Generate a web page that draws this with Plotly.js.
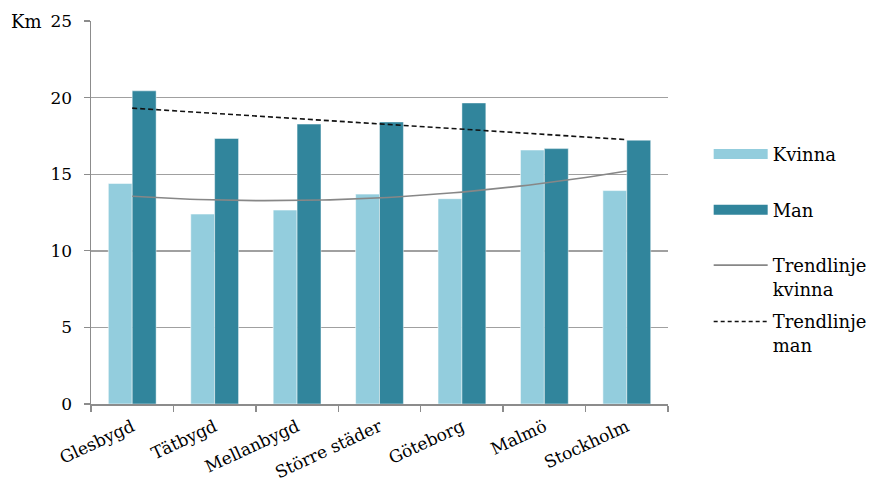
<!DOCTYPE html>
<html>
<head>
<meta charset="utf-8">
<script src="https://cdn.plot.ly/plotly-3.0.1.min.js"></script>
<style>
  html, body { margin: 0; padding: 0; background: #ffffff; }
  #chart { width: 870px; height: 485px; }
</style>
</head>
<body>
<div id="chart"></div>
<script>
// Average travel distance (km) by region type, women and men
const categories = ['Glesbygd', 'Tätbygd', 'Mellanbygd', 'Större städer', 'Göteborg', 'Malmö', 'Stockholm'];
const kvinna = [14.4, 12.4, 12.66, 13.7, 13.4, 16.58, 13.93];
const man = [20.44, 17.33, 18.27, 18.41, 19.65, 16.67, 17.22];
const yTicks = [0, 5, 10, 15, 20, 25];

const FONT = 'DejaVu Serif, Liberation Serif, serif';
const C_KVINNA = '#93cddd';
const C_MAN = '#31859c';

// Least-squares polynomial fit (degree 1 or 2) over category index 0..n-1
function polyFit(ys, degree) {
  const xs = ys.map((_, i) => i);
  const m = degree + 1;
  const A = [];
  for (let r = 0; r < m; r++) {
    A.push([]);
    for (let c = 0; c < m; c++) {
      A[r].push(xs.reduce((s, x) => s + Math.pow(x, r + c), 0));
    }
    A[r].push(xs.reduce((s, x, i) => s + Math.pow(x, r) * ys[i], 0));
  }
  for (let p = 0; p < m; p++) {
    for (let r = p + 1; r < m; r++) {
      const f = A[r][p] / A[p][p];
      for (let c = p; c <= m; c++) A[r][c] -= f * A[p][c];
    }
  }
  const coef = new Array(m).fill(0);
  for (let r = m - 1; r >= 0; r--) {
    let s = A[r][m];
    for (let c = r + 1; c < m; c++) s -= A[r][c] * coef[c];
    coef[r] = s / A[r][r];
  }
  return x => coef.reduce((s, k, i) => s + k * Math.pow(x, i), 0);
}

const fitK = polyFit(kvinna, 2);
const fitM = polyFit(man, 1);
const tx = [];
for (let i = 0; i <= 60; i++) tx.push(i * (categories.length - 1) / 60);

const traces = [
  { type: 'bar', name: 'Kvinna', x: categories, y: kvinna, showlegend: false,
    marker: { color: C_KVINNA, line: { color: 'rgba(255,255,255,0.55)', width: 1 } }, hoverinfo: 'x+y' },
  { type: 'bar', name: 'Man', x: categories, y: man, showlegend: false,
    marker: { color: C_MAN, line: { color: 'rgba(255,255,255,0.45)', width: 1 } }, hoverinfo: 'x+y' },
  { type: 'scatter', mode: 'lines', name: 'Trendlinje<br>kvinna', x: tx, y: tx.map(fitK),
    xaxis: 'x2', yaxis: 'y', line: { color: '#878787', width: 1.6 }, showlegend: false },
  { type: 'scatter', mode: 'lines', name: 'Trendlinje<br>man', x: tx, y: tx.map(fitM),
    xaxis: 'x2', yaxis: 'y', line: { color: '#111111', width: 1.6, dash: '5px,3px' }, showlegend: false },
  // legend swatches
  { type: 'scatter', mode: 'lines', name: 'Kvinna', x: [null], y: [null], xaxis: 'x2',
    line: { color: C_KVINNA, width: 12 }, legend: 'legend', hoverinfo: 'skip' },
  { type: 'scatter', mode: 'lines', name: 'Man', x: [null], y: [null], xaxis: 'x2',
    line: { color: C_MAN, width: 12 }, legend: 'legend2', hoverinfo: 'skip' },
  { type: 'scatter', mode: 'lines', name: 'Trendlinje<br>kvinna', x: [null], y: [null], xaxis: 'x2',
    line: { color: '#878787', width: 1.6 }, legend: 'legend3', hoverinfo: 'skip' },
  { type: 'scatter', mode: 'lines', name: 'Trendlinje<br>man', x: [null], y: [null], xaxis: 'x2',
    line: { color: '#111111', width: 1.6, dash: '4px,3px' }, legend: 'legend4', hoverinfo: 'skip' }
];

const legendBase = (y) => ({
  x: 1.0705, xanchor: 'left', y: y, yanchor: 'top', valign: 'top',
  itemwidth: 54, bgcolor: 'rgba(0,0,0,0)',
  font: { family: FONT, size: 18, color: '#000000' }
});

const layout = {
  width: 870, height: 485,
  margin: { l: 91, r: 202, t: 21, b: 81, autoexpand: false },
  paper_bgcolor: '#ffffff', plot_bgcolor: '#ffffff',
  font: { family: FONT, size: 16, color: '#000000' },
  barmode: 'group', bargap: 0.42, bargroupgap: 0,
  xaxis: {
    type: 'category', categoryorder: 'array', categoryarray: categories,
    tickson: 'boundaries', ticks: 'outside', ticklen: 6, tickcolor: '#8c8c8c', tickwidth: 1.3,
    showline: true, linecolor: '#8c8c8c', linewidth: 1.5, automargin: false,
    showgrid: false, tickangle: -25, ticklabelstandoff: 5,
    tickfont: { family: FONT, size: 17, color: '#000000' }
  },
  xaxis2: { overlaying: 'x', range: [-0.5, categories.length - 0.5], visible: false, fixedrange: true },
  yaxis: {
    range: [0, 25], tickvals: yTicks, ticktext: yTicks.map(String),
    ticks: 'outside', ticklen: 6, tickcolor: '#8c8c8c', tickwidth: 1.3,
    showline: true, linecolor: '#8c8c8c', linewidth: 1.5, automargin: false,
    showgrid: true, gridcolor: '#a0a0a0', gridwidth: 1.4, zeroline: false,
    ticklabelstandoff: 8,
    tickfont: { family: FONT, size: 17, color: '#000000' }
  },
  legend: legendBase(0.70),
  legend2: legendBase(0.555),
  legend3: legendBase(0.41),
  legend4: legendBase(0.263),
  annotations: [
    { text: 'Km', xref: 'paper', yref: 'paper', x: -0.142, y: 1.0, xanchor: 'left', yanchor: 'middle',
      showarrow: false, font: { family: FONT, size: 18, color: '#000000' } }
  ]
};

Plotly.newPlot('chart', traces, layout, { displayModeBar: false, staticPlot: true });
</script>
</body>
</html>
